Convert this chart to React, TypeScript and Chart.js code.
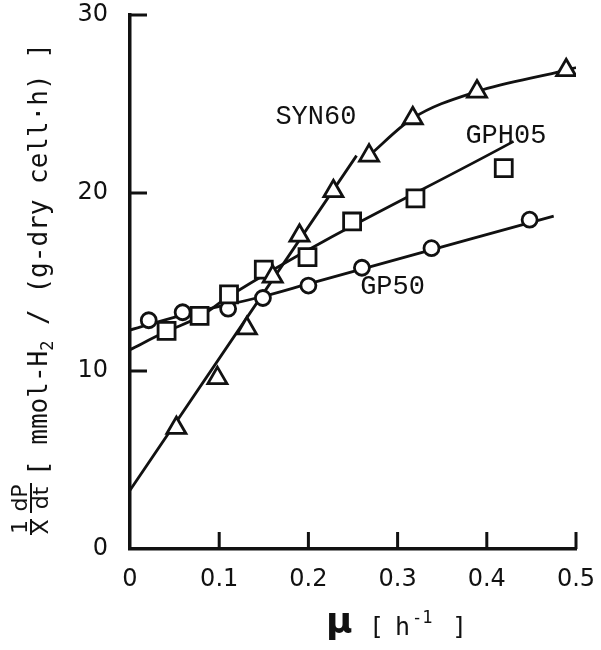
import React, { useEffect, useRef } from "react";
import { Chart, registerables } from "chart.js";

Chart.register(...registerables);

// ---- tick values ----
const xTickValues = [0, 0.1, 0.2, 0.3, 0.4, 0.5];
const yTickValues = [0, 10, 20, 30];

// ---- measured points ----
const syn60X = [0.052, 0.098, 0.131, 0.16, 0.19, 0.228, 0.268, 0.317, 0.389, 0.489];
const syn60Y = [6.8, 9.6, 12.4, 15.3, 17.6, 20.1, 22.1, 24.2, 25.7, 26.9];

const gph05X = [0.041, 0.078, 0.111, 0.15, 0.199, 0.249, 0.32, 0.419];
const gph05Y = [12.25, 13.1, 14.3, 15.7, 16.4, 18.4, 19.7, 21.4];

const gp50X = [0.021, 0.059, 0.11, 0.149, 0.2, 0.26, 0.338, 0.448];
const gp50Y = [12.85, 13.3, 13.5, 14.1, 14.8, 15.8, 16.9, 18.5];

// ---- fitted curves (hand drawn in the original) ----
const syn60FitAX = [0, 0.254];
const syn60FitAY = [3.3, 22.1];
const syn60FitBX = [0.268, 0.317, 0.389, 0.489, 0.5];
const syn60FitBY = [22.1, 24.2, 25.7, 26.9, 27.05];

const gph05FitX = [0, 0.04, 0.08, 0.111, 0.43];
const gph05FitY = [11.2, 12.2, 13.1, 14.2, 22.9];

const gp50FitX = [0, 0.06, 0.15, 0.2, 0.475];
const gp50FitY = [12.3, 13.15, 14.2, 14.9, 18.7];

// ---- series labels (anchored in data units) ----
const seriesNames = ["SYN60", "GPH05", "GP50"];
const seriesLabelX = [0.163, 0.376, 0.258];
const seriesLabelY = [23.9, 22.8, 14.3];

const INK = "#111111";

const pts = (xs: number[], ys: number[]) => xs.map((x, i) => ({ x, y: ys[i] }));

const zeroPad = (s: any) => {
  s.paddingTop = 0;
  s.paddingBottom = 0;
  s.paddingLeft = 0;
  s.paddingRight = 0;
};

const decorPlugin = {
  id: "decor",
  afterDraw(chart: any) {
    const { ctx, chartArea } = chart;
    const xs = chart.scales.x;
    const ys = chart.scales.y;
    ctx.save();
    ctx.strokeStyle = INK;
    ctx.fillStyle = INK;

    // inward tick marks
    ctx.lineWidth = 3;
    ctx.lineCap = "butt";
    xTickValues.forEach((v) => {
      if (v === 0) return;
      const px = xs.getPixelForValue(v);
      ctx.beginPath();
      ctx.moveTo(px, chartArea.bottom);
      ctx.lineTo(px, chartArea.bottom - 17);
      ctx.stroke();
    });
    yTickValues.forEach((v) => {
      if (v === 0) return;
      const py = ys.getPixelForValue(v);
      ctx.beginPath();
      ctx.moveTo(chartArea.left, py);
      ctx.lineTo(chartArea.left + 17, py);
      ctx.stroke();
    });

    // series labels
    ctx.font = '27px "Liberation Mono"';
    ctx.textAlign = "left";
    ctx.textBaseline = "alphabetic";
    seriesNames.forEach((name, i) => {
      ctx.fillText(name, xs.getPixelForValue(seriesLabelX[i]), ys.getPixelForValue(seriesLabelY[i]));
    });

    // x-axis title: μ [ h^-1 ]
    const cx = (chartArea.left + chartArea.right) / 2;
    const base = chartArea.bottom + 86;
    ctx.font = 'bold 36px "DejaVu Sans"';
    ctx.fillText("\u03bc", cx - 27, base - 2);
    ctx.font = '25px "DejaVu Sans Mono"';
    ctx.fillText("[", cx + 16, base);
    ctx.fillText("h", cx + 42, base);
    ctx.font = '17px "DejaVu Sans Mono"';
    ctx.fillText("-1", cx + 59, base - 12);
    ctx.font = '25px "DejaVu Sans Mono"';
    ctx.fillText("]", cx + 99, base);

    // y-axis title (rotated)
    ctx.rotate(-Math.PI / 2);
    // local (lx, ly) -> screen (ly, -lx)
    ctx.font = '22px "DejaVu Sans"';
    ctx.textAlign = "center";
    ctx.lineWidth = 2;
    const f1 = 527;
    ctx.fillText("1", -f1, 27);
    ctx.fillText("X", -f1, 48);
    ctx.beginPath();
    ctx.moveTo(-f1 - 8, 31);
    ctx.lineTo(-f1 + 8, 31);
    ctx.stroke();
    const f2 = 498;
    ctx.fillText("dP", -f2, 27);
    ctx.fillText("dt", -f2, 48);
    ctx.beginPath();
    ctx.moveTo(-f2 - 15, 31);
    ctx.lineTo(-f2 + 15, 31);
    ctx.stroke();

    ctx.textAlign = "left";
    let lx = -476;
    ctx.font = '26px "DejaVu Sans Mono"';
    ctx.fillText("[ mmol-H", lx, 47);
    lx += ctx.measureText("[ mmol-H").width;
    ctx.font = '17px "DejaVu Sans Mono"';
    ctx.fillText("2", lx, 53);
    lx += ctx.measureText("2").width;
    ctx.font = '26px "DejaVu Sans Mono"';
    ctx.fillText(" / (g-dry cell\u00b7h) ]", lx, 47);

    ctx.restore();
  },
};

export default function App() {
  const canvasRef = useRef<HTMLCanvasElement | null>(null);

  useEffect(() => {
    const canvas = canvasRef.current;
    if (!canvas) return;

    const lineDs = (xs: number[], ys: number[]) => ({
      data: pts(xs, ys),
      showLine: true,
      borderColor: INK,
      borderWidth: 2.8,
      pointRadius: 0,
      pointHoverRadius: 0,
      cubicInterpolationMode: "monotone" as const,
      fill: false,
      order: 2,
    });

    const markerDs = (xs: number[], ys: number[], style: string, r: number) => ({
      data: pts(xs, ys),
      showLine: false,
      pointStyle: style,
      pointRadius: r,
      pointHoverRadius: r,
      pointBorderWidth: 2.8,
      pointBorderColor: INK,
      pointBackgroundColor: "#ffffff",
      order: 1,
    });

    const chart = new Chart(canvas, {
      type: "scatter",
      data: {
        datasets: [
          lineDs(syn60FitAX, syn60FitAY),
          lineDs(syn60FitBX, syn60FitBY),
          lineDs(gph05FitX, gph05FitY),
          lineDs(gp50FitX, gp50FitY),
          markerDs(syn60X, syn60Y, "triangle", 11),
          markerDs(gph05X, gph05Y, "rect", 12),
          markerDs(gp50X, gp50Y, "circle", 7.5),
        ] as any,
      },
      options: {
        animation: false,
        responsive: false,
        maintainAspectRatio: false,
        layout: { padding: { top: 15, right: 25, left: 0, bottom: 0 } },
        plugins: { legend: { display: false }, tooltip: { enabled: false } },
        events: [],
        scales: {
          x: {
            type: "linear",
            min: 0,
            max: 0.5,
            afterFit: (s: any) => {
              s.height = 101;
              zeroPad(s);
            },
            afterBuildTicks: (s: any) => {
              s.ticks = xTickValues.map((v) => ({ value: v }));
            },
            ticks: {
              padding: 16,
              color: INK,
              font: { family: "DejaVu Sans", size: 24 },
              callback: (v: any) => (Number(v) === 0 ? "0" : Number(v).toFixed(1)),
              maxRotation: 0,
            },
            grid: { display: false, drawTicks: false },
            border: { display: true, color: INK, width: 3.5 },
          },
          y: {
            type: "linear",
            min: 0,
            max: 30,
            afterFit: (s: any) => {
              s.width = 130;
              zeroPad(s);
            },
            afterBuildTicks: (s: any) => {
              s.ticks = yTickValues.map((v) => ({ value: v }));
            },
            ticks: {
              padding: 22,
              color: INK,
              font: { family: "DejaVu Sans", size: 24 },
              callback: (v: any) => String(v),
            },
            grid: { display: false, drawTicks: false },
            border: { display: true, color: INK, width: 3.5 },
          },
        },
      },
      plugins: [decorPlugin],
    });

    return () => chart.destroy();
  }, []);

  return (
    <div style={{ position: "absolute", left: 0, top: 0, width: 601, height: 650, background: "#fff" }}>
      <canvas ref={canvasRef} width={601} height={650} style={{ display: "block" }} />
    </div>
  );
}
